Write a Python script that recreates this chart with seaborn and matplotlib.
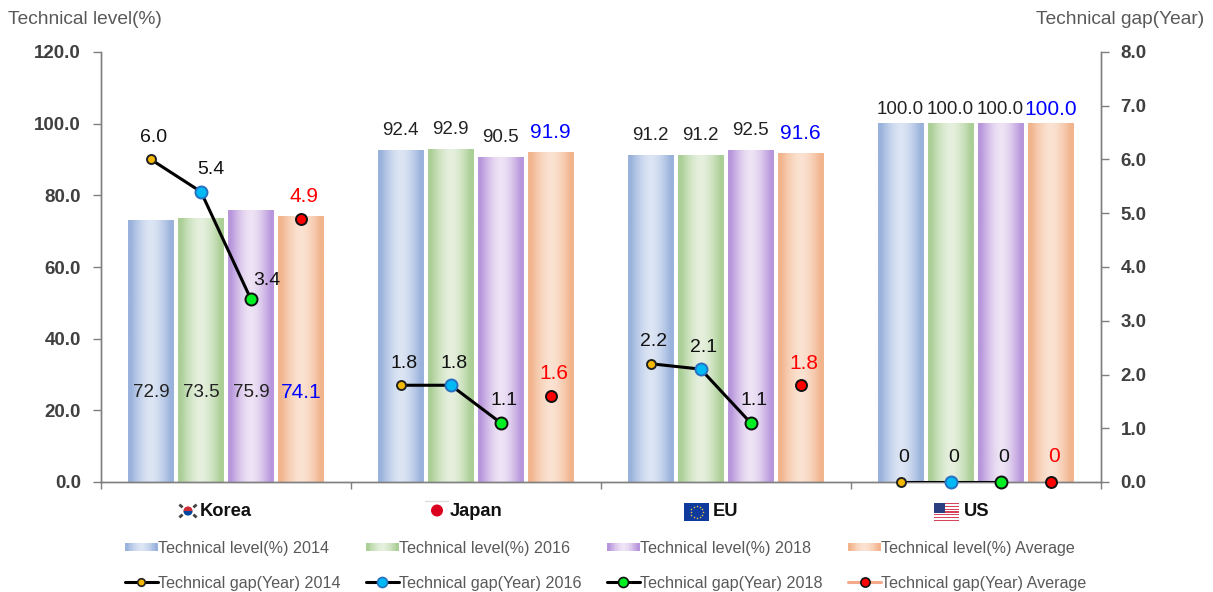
import numpy as np
import pandas as pd
import matplotlib
matplotlib.use("Agg")
import matplotlib.pyplot as plt
from matplotlib.colors import LinearSegmentedColormap
from matplotlib.legend_handler import HandlerBase
from matplotlib.lines import Line2D
from matplotlib.patches import Circle, Rectangle, Wedge
import seaborn as sns

countries = ["Korea", "Japan", "EU", "US"]
periods = ["2014", "2016", "2018", "Average"]
level_2014 = [72.9, 92.4, 91.2, 100.0]
level_2016 = [73.5, 92.9, 91.2, 100.0]
level_2018 = [75.9, 90.5, 92.5, 100.0]
level_avg = [74.1, 91.9, 91.6, 100.0]
gap_2014 = [6.0, 1.8, 2.2, 0]
gap_2016 = [5.4, 1.8, 2.1, 0]
gap_2018 = [3.4, 1.1, 1.1, 0]
gap_avg = [4.9, 1.6, 1.8, 0]

W, H = 1213, 592
sns.set_theme(style="white")
plt.rcParams["font.family"] = ["Liberation Sans", "DejaVu Sans"]

level_series = [level_2014, level_2016, level_2018, level_avg]
gap_series = [gap_2014, gap_2016, gap_2018, gap_avg]
rows = []
for p, (lv, gp) in enumerate(zip(level_series, gap_series)):
    for c, name in enumerate(countries):
        rows.append({"country": name, "period": periods[p], "level": lv[c], "gap": gp[c],
                     "x": c + (p - 1.5) * 0.2, "pos": c, "slot": p})
df = pd.DataFrame(rows)

bar_edges = ["#9AB2DC", "#ABCF96", "#B896DC", "#F2B48C"]
bar_mids = ["#DCE5F4", "#E6F0DE", "#EEE4F5", "#FBE2D2"]
marker_faces = ["#F5B800", "#00BAF5", "#00EE22", "#FF0000"]
marker_edges = ["#222222", "#2A6FC0", "#111111", "#111111"]
marker_sizes = [9, 12, 12, 11]
TEXT_GREY = "#595959"
AXIS_GREY = "#7F7F7F"

fig = plt.figure(figsize=(W / 100, H / 100), dpi=100)
ax = fig.add_axes([101 / W, 1 - 482 / H, 999.5 / W, 430 / H])

sns.barplot(data=df, x="country", y="level", hue="period", order=countries, hue_order=periods,
            gap=0.08, legend=False, ax=ax, errorbar=None, palette=bar_edges)

# Each bar gets a glossy left-to-right fill clipped to its own rectangle.
ramp = np.abs(np.linspace(-1, 1, 128)).reshape(1, -1)
ramp = 1 - np.clip(ramp * 1.15, 0, 1) ** 1.6
for s, container in enumerate(ax.containers):
    cmap = LinearSegmentedColormap.from_list("sheen", [bar_edges[s], bar_mids[s]])
    for bar in container:
        x0, y0, w, h = bar.get_x(), bar.get_y(), bar.get_width(), bar.get_height()
        ax.imshow(ramp, extent=[x0, x0 + w, y0, y0 + h], cmap=cmap, vmin=0, vmax=1,
                  aspect="auto", zorder=2)
        bar.set_facecolor("none")
        bar.set_edgecolor("none")
        bar.set_linewidth(0)

ax.set_xlim(-0.5, 3.5)
ax.set_ylim(0, 120)
ax.set_yticks(np.arange(0, 121, 20))
ax.set_yticklabels([f"{v:.1f}" for v in np.arange(0, 121, 20)])
ax.set_xticks(np.arange(-0.5, 4, 1))
ax.set_xticklabels([])
ax.set_xlabel("")
ax.set_ylabel("")

ax2 = ax.twinx()
ax2.set_ylim(0, 8)
ax2.set_yticks(np.arange(0, 9, 1))
ax2.set_yticklabels([f"{v:.1f}" for v in np.arange(0, 9, 1)])

sns.lineplot(data=df[df["slot"] < 3], x="x", y="gap", units="country", estimator=None,
             color="black", linewidth=2.2, ax=ax2, legend=False, zorder=4)
for s, period in enumerate(periods):
    part = df[df["period"] == period]
    sns.scatterplot(data=part, x="x", y="gap", ax=ax2, color=marker_faces[s],
                    edgecolor=marker_edges[s], linewidth=1.4,
                    s=(marker_sizes[s] * 0.72) ** 2, zorder=5, legend=False, clip_on=False)
ax2.set_xlabel("")
ax2.set_ylabel("")
ax2.set_xlim(-0.5, 3.5)

for a in (ax, ax2):
    for side in a.spines:
        a.spines[side].set_color(AXIS_GREY)
        a.spines[side].set_linewidth(1.0)
    a.spines["top"].set_visible(False)
    a.tick_params(axis="y", color=AXIS_GREY, length=5.8, width=1.0, pad=8.6)
    a.grid(False)
ax.tick_params(axis="x", color=AXIS_GREY, length=5, width=1.0, bottom=True)
ax2.tick_params(axis="x", bottom=False, labelbottom=False)
ax.tick_params(axis="y", left=True)
ax2.tick_params(axis="y", right=True)
for a in (ax, ax2):
    for lab in a.get_yticklabels():
        lab.set_fontweight("bold")
        lab.set_fontsize(13.5)
        lab.set_color("#404040")

# Level labels: Korea's sit inside the bars, the others above them.
level_lift = {"Japan": 20, "EU": 20, "US": 14}
KOREA_LABEL_LEVEL = 25
for s, period in enumerate(periods):
    avg = period == "Average"
    for _, r in df[df["period"] == period].iterrows():
        text = f"{r['level']:.1f}"
        style = dict(ha="center", va="center", fontsize=15 if avg else 13.5,
                     color="#0000FF" if avg else "#222222",
                     textcoords="offset pixels", zorder=6)
        if r["country"] == "Korea":
            ax.annotate(text, (r["x"], KOREA_LABEL_LEVEL), xytext=(0, 0), **style)
        else:
            ax.annotate(text, (r["x"], r["level"]), xytext=(0, level_lift[r["country"]]), **style)

# Gap labels, with the two Korean ones nudged clear of the connecting line.
nudges = {("Korea", "2016"): (10, 22), ("Korea", "2018"): (16, 19)}
for s, period in enumerate(periods):
    avg = period == "Average"
    for _, r in df[df["period"] == period].iterrows():
        zero = r["gap"] == 0
        text = "0" if zero else f"{r['gap']:.1f}"
        dx, dy = nudges.get((r["country"], period), (3, 25 if zero else 22))
        ax2.annotate(text, (r["x"], r["gap"]), xytext=(dx, dy), textcoords="offset pixels",
                     ha="center", va="center", fontsize=15 if avg else 14,
                     color="#FF0000" if avg else "#111111", zorder=7, annotation_clip=False)

fig.text(8 / W, 1 - 19 / H, "Technical level(%)", fontsize=13.8, color=TEXT_GREY, va="center", ha="left")
fig.text(1204 / W, 1 - 19 / H, "Technical gap(Year)", fontsize=13.8, color=TEXT_GREY, va="center", ha="right")


# Small national flags beside the category names, laid out in figure pixels.
def flag_axes(x, y, w, h):
    fa = fig.add_axes([x / W, 1 - (y + h) / H, w / W, h / H])
    fa.set_xlim(0, w)
    fa.set_ylim(h, 0)
    fa.axis("off")
    return fa


fa = flag_axes(178, 502, 20, 18)
fa.add_patch(Wedge((10, 9), 4.6, 180, 360, color="#CD2E3A", lw=0))
fa.add_patch(Wedge((10, 9), 4.6, 0, 180, color="#0047A0", lw=0))
for cx, cy, tilt in [(3, 4, 1), (17, 4, -1), (3, 14, -1), (17, 14, 1)]:
    fa.plot([cx - 1.6, cx + 1.6], [cy - 1.4 * tilt, cy + 1.4 * tilt],
            color="#444444", lw=2.0, solid_capstyle="butt")

fa = flag_axes(425, 500, 24, 20)
fa.plot([0, 24], [1, 1], color="#DDDDDD", lw=1)
fa.add_patch(Circle((12, 10.5), 5.3, color="#DC0020"))

fa = flag_axes(684, 503, 25, 18)
fa.add_patch(Rectangle((0, 0), 25, 18, color="#0E3A9E"))
for ang in np.arange(0, 360, 30):
    fa.plot(12.5 + 6 * np.cos(np.radians(ang)), 9 + 6 * np.sin(np.radians(ang)), "o",
            ms=1.1, color="#E8C840", mew=0)

fa = flag_axes(934, 503, 25, 18)
for i in range(7):
    fa.add_patch(Rectangle((0, i * 18 / 6.5), 25, 18 / 13, color="#D6435A", lw=0))
fa.add_patch(Rectangle((0, 0), 11, 9.5, color="#2B3F80", lw=0))

for name, cx in zip(countries, [226, 476, 726, 977]):
    fig.text(cx / W, 1 - 511 / H, name, fontweight="bold", fontsize=13.2,
             color="#111111", ha="center", va="center")


class SheenHandle:
    def __init__(self, edge, mid):
        self.edge, self.mid = edge, mid


class SheenHandler(HandlerBase):
    def create_artists(self, legend, orig, xd, yd, width, height, fontsize, trans):
        cmap = LinearSegmentedColormap.from_list("sheen", [orig.edge, orig.mid])
        n = 24
        h = 8 / 1.389
        out = []
        for i in range(n):
            t = 1 - np.clip(abs((i + 0.5) / n * 2 - 1) * 1.15, 0, 1) ** 1.6
            out.append(Rectangle((-xd + width * i / n, height / 2 - yd - h / 2), width / n + 0.3, h,
                                 color=cmap(t), lw=0, transform=trans))
        return out


handles, labels = [], []
for s, period in enumerate(periods):
    handles.append(SheenHandle(bar_edges[s], bar_mids[s]))
    labels.append(f"Technical level(%) {period}")
    line_col = "#F4A98A" if period == "Average" else "black"
    handles.append(Line2D([], [], color=line_col, lw=2.2, marker="o", ms=marker_sizes[s] * 0.6,
                          mfc=marker_faces[s], mec=marker_edges[s], mew=1.2))
    labels.append(f"Technical gap(Year) {period}")

fig.legend(handles, labels, ncol=4, loc="center left", bbox_to_anchor=(125 / W, 1 - 566 / H),
           frameon=False, fontsize=11.6, labelcolor=TEXT_GREY, handlelength=2.03, handletextpad=0.0,
           columnspacing=1.6, labelspacing=1.25, borderpad=0, borderaxespad=0,
           handler_map={SheenHandle: SheenHandler()})

fig.savefig("out.png", dpi=100)
